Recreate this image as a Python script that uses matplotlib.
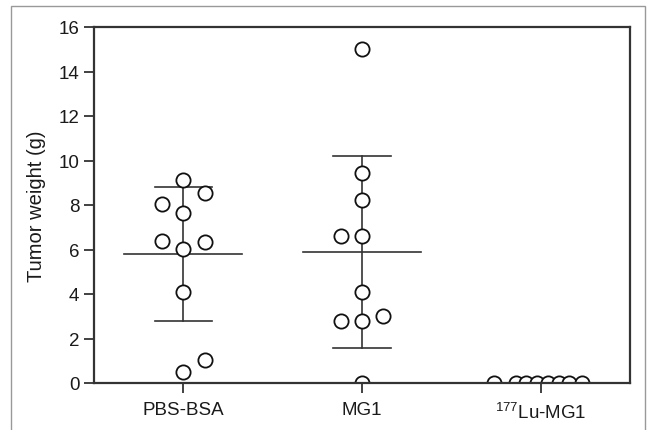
import matplotlib
matplotlib.use("Agg")
import matplotlib.pyplot as plt
from matplotlib.patches import Rectangle
import numpy as np

plt.rcParams["font.family"] = ["Liberation Sans", "DejaVu Sans"]
plt.rcParams["mathtext.fontset"] = "custom"
plt.rcParams["mathtext.rm"] = "Liberation Sans"

groups = ["PBS-BSA", "MG1", "$^{\\mathrm{177}}$Lu-MG1"]

# individual tumor weights (g) and horizontal jitter per point
pbs_vals = [9.12, 8.52, 8.03, 7.62, 6.38, 6.35, 6.02, 4.08, 1.02, 0.49]
pbs_jit = [0.0, 0.12, -0.12, 0.0, -0.12, 0.12, 0.0, 0.0, 0.12, 0.0]
mg1_vals = [15.02, 9.42, 8.22, 6.62, 6.62, 4.11, 2.99, 2.80, 2.77, 0.0]
mg1_jit = [0.0, 0.0, 0.0, -0.12, 0.0, 0.0, 0.12, -0.12, 0.0, 0.0]
lu_vals = [0, 0, 0, 0, 0, 0, 0, 0]
lu_jit = [-0.26, -0.14, -0.08, -0.02, 0.04, 0.10, 0.16, 0.23]

# mean and SD as drawn
means = [5.78, 5.87]
sds = [3.01, 4.31]

dark = "#333333"

fig = plt.figure(figsize=(6.47, 4.31), dpi=100)
ax = fig.add_axes([94 / 647, 47 / 431, 536 / 647, 356 / 431])

for i, (vals, jit) in enumerate([(pbs_vals, pbs_jit), (mg1_vals, mg1_jit), (lu_vals, lu_jit)]):
    if i < 2:
        m, s = means[i], sds[i]
        ax.plot([i - 0.33, i + 0.33], [m, m], color=dark, lw=1.2, zorder=2)
        ax.plot([i - 0.16, i + 0.16], [m + s, m + s], color=dark, lw=1.2, zorder=2)
        ax.plot([i - 0.16, i + 0.16], [m - s, m - s], color=dark, lw=1.2, zorder=2)
        ax.plot([i, i], [m - s, m + s], color=dark, lw=1.2, zorder=2)
    sc = ax.scatter(np.array(jit) + i, vals, s=105, facecolor="white",
                    edgecolor="#111111", linewidth=1.3, zorder=3)
    sc.set_clip_path(ax.patch)

ax.set_xlim(-0.5, 2.5)
ax.set_ylim(0, 16)
ax.set_yticks(range(0, 17, 2))
ax.set_xticks(range(3))
ax.set_xticklabels(groups)
ax.set_ylabel("Tumor weight (g)", fontsize=14.5, color="#1a1a1a", labelpad=9)
ax.tick_params(axis="both", direction="out", length=7, width=1.3, color=dark,
               labelsize=13.5, labelcolor="#1a1a1a")
ax.tick_params(axis="x", pad=6)
for sp in ax.spines.values():
    sp.set_linewidth(1.6)
    sp.set_color(dark)
    sp.set_zorder(4)

# outer panel frame
fig.add_artist(Rectangle((11 / 647, -0.05), 634 / 647, 1.05 - 7 / 431,
                         transform=fig.transFigure, fill=False,
                         edgecolor="#999999", lw=1.0))

fig.savefig("out.png", dpi=100)
